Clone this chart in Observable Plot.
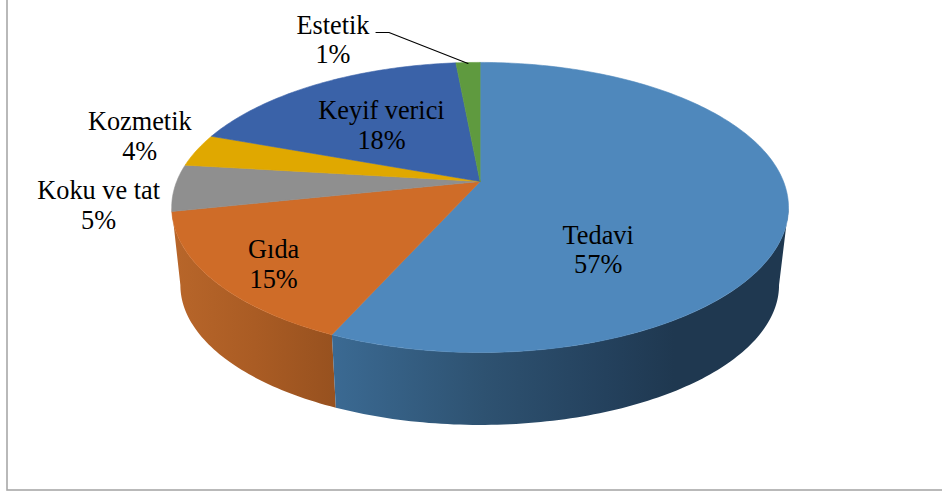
<!DOCTYPE html>
<html>
<head>
<meta charset="utf-8">
<script src="https://cdn.jsdelivr.net/npm/d3@7"></script>
<script src="https://cdn.jsdelivr.net/npm/@observablehq/plot@0.6"></script>
<style>
  html, body { margin: 0; padding: 0; background: #fff; }
  svg { display: block; }
</style>
</head>
<body>
<div id="chart"></div>
<script>
// Data (clockwise from the top of the pie)
const categories = ["Tedavi", "Gıda", "Koku ve tat", "Kozmetik", "Keyif verici", "Estetik"];
const shares = [56.7, 15.0, 5.2, 3.65, 17.95, 1.5];
const percentLabels = ["57%", "15%", "5%", "4%", "18%", "1%"];
const topColors = ["#4f88bc", "#cf6c28", "#8f8f8f", "#e0a800", "#3a62a8", "#5f9a3f"];

// Perspective of the disc
const persp = 0.179;
const topDisc = {cx: 479.6, cy: 181, rx: 303.4, ry: 140.4};
const lowDisc = {cx: 479.2, cy: 259.5, rx: 294.5, ry: 135.4};
const project = (disc, deg, r = 1) => {
  const a = deg * Math.PI / 180;
  const u = r * Math.sin(a), v = -r * Math.cos(a), w = 1 - persp * v;
  return {x: disc.cx + disc.rx * u / w, y: disc.cy + disc.ry * v / w};
};
const arc = (disc, a0, a1) => {
  const n = Math.max(2, Math.ceil(Math.abs(a1 - a0)));
  return d3.range(n + 1).map(i => project(disc, a0 + (a1 - a0) * i / n));
};

// Slice angles
const total = d3.sum(shares);
const cum = d3.cumsum(shares);
const startDeg = i => (i === 0 ? 0 : cum[i - 1]) / total * 360;
const endDeg = i => cum[i] / total * 360;
const midDeg = i => (startDeg(i) + endDeg(i)) / 2;

// Visible wall of the disc
const silhouetteR = 100.3, silhouetteL = 259.7;
const wall = (a0, a1) => [...arc(topDisc, a0, a1), ...arc(lowDisc, a1, a0)];
const wallBlue = wall(silhouetteR, endDeg(0));
const wallOrange = wall(startDeg(1), silhouetteL);

const wedge = i => [
  {x: topDisc.cx, y: topDisc.cy},
  ...arc(topDisc, startDeg(i), endDeg(i)),
  {x: topDisc.cx, y: topDisc.cy}
];

// Gradients for the wall
const gradients = {
  wallBlueGrad: [[0, "#3b6a93"], [0.33, "#2e5271"], [0.6, "#24415d"], [0.75, "#1f3850"], [1, "#1f3850"]],
  wallOrangeGrad: [[0, "#b8662a"], [0.5, "#aa5c24"], [1, "#97511f"]]
};
const defs = () => {
  const d = d3.create("svg:defs");
  for (const [id, stops] of Object.entries(gradients)) {
    const g = d.append("linearGradient").attr("id", id).attr("x1", 0).attr("x2", 1).attr("y1", 0).attr("y2", 0);
    for (const [o, c] of stops) g.append("stop").attr("offset", o).attr("stop-color", c);
  }
  return d.node();
};

// Label placement: anchored on a slice's mid-angle, nudged to where it sits
const labelPlace = [
  {r: 0.6, dx: -64, dy: 49.5},
  {r: 0.6, dx: -54.5, dy: 25.5},
  {r: 1, dx: -76, dy: 17},
  {r: 1, dx: -57, dy: -15},
  {r: 0.6, dx: 4, dy: 4.5},
  {r: 1, dx: -135, dy: -23.5}
];
const labelMark = (i) => {
  const p = project(topDisc, midDeg(i), labelPlace[i].r);
  return Plot.text([categories[i] + "\n" + percentLabels[i]], {
    x: () => p.x, y: () => p.y, text: d => d,
    dx: labelPlace[i].dx, dy: labelPlace[i].dy,
    textAnchor: "middle", lineAnchor: "middle", lineHeight: 1.13,
    fontFamily: "Liberation Serif", fontSize: 26.3, fill: "#000"
  });
};

// Leader line for the smallest slice
const rim = project(topDisc, midDeg(5));
const leader = [{x: rim.x - 92, y: rim.y - 30}, {x: rim.x - 79, y: rim.y - 30}, {x: rim.x, y: rim.y + 1}];

const poly = (pts, fill, extra = {}) => Plot.line(pts, {x: "x", y: "y", fill, stroke: fill, strokeWidth: 0.6, curve: "linear", ...extra});

const chart = Plot.plot({
  width: 942,
  height: 493,
  margin: 0,
  style: {background: "#fff"},
  x: {axis: null, domain: [0, 942], range: [0, 942]},
  y: {axis: null, domain: [0, 493], range: [0, 493]},
  marks: [
    defs,
    Plot.frame({stroke: "#a8a8a8", strokeWidth: 1.6, insetLeft: 6.5, insetBottom: 3.5, insetTop: -5, insetRight: -5}),
    poly(wallOrange, "url(#wallOrangeGrad)", {stroke: "none"}),
    poly(wallBlue, "url(#wallBlueGrad)", {stroke: "none"}),
    ...categories.map((_, i) => poly(wedge(i), topColors[i])),
    Plot.line(leader, {x: "x", y: "y", stroke: "#000", strokeWidth: 1.1, curve: "linear"}),
    ...categories.map((_, i) => labelMark(i))
  ]
});
document.getElementById("chart").append(chart);
</script>
</body>
</html>
